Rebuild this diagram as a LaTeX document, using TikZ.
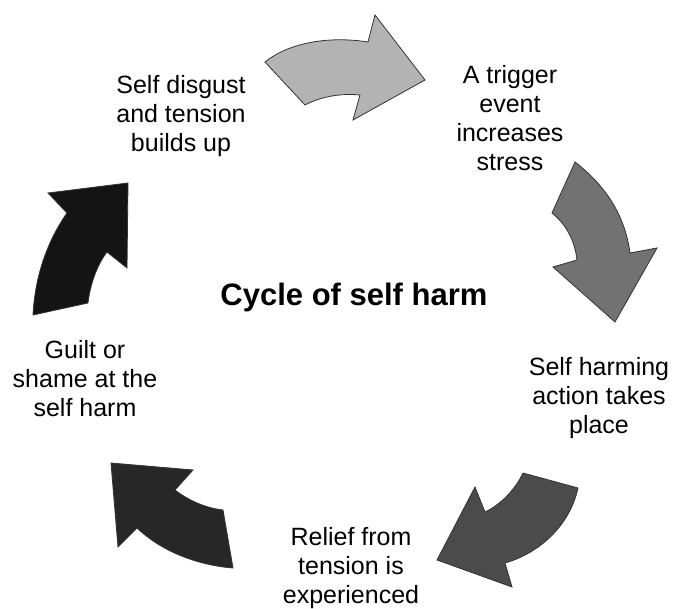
\documentclass[tikz,border=0pt]{standalone}
\usepackage{fontspec}
\setmainfont{Liberation Sans}
\definecolor{arrowA}{HTML}{B3B3B3}
\definecolor{arrowB}{HTML}{727272}
\definecolor{arrowC}{HTML}{4B4B4B}
\definecolor{arrowD}{HTML}{272727}
\definecolor{arrowE}{HTML}{141414}
\definecolor{edgegray}{HTML}{333333}
\tikzset{
  cyclearrow/.style={draw=edgegray, line width=0.8pt, line join=miter},
  stagetext/.style={align=center, inner sep=0pt, anchor=north, font=\fontsize{25}{29}\selectfont},
  titletext/.style={inner sep=0pt, anchor=base, font=\fontsize{31}{36}\selectfont\bfseries}
}
\begin{document}
\begin{tikzpicture}[x=1pt,y=-1pt]
\useasboundingbox (0,0) rectangle (673,609);
% arrows
\fill[cyclearrow, fill=arrowA] (265,62) -- (305,105) .. controls (320,97) and (340,93) .. (360,95) -- (353,120) -- (425,80) -- (375,15) -- (368,42) .. controls (330,36) and (290,42) .. cycle;
\fill[cyclearrow, fill=arrowB] (575,162) -- (552,213) .. controls (567,225) and (575,242) .. (577,260) -- (553,267) -- (615,322) -- (657,248) -- (630,253) .. controls (625,215) and (605,185) .. cycle;
\fill[cyclearrow, fill=arrowC] (523,473) -- (578,488) .. controls (570,525) and (540,553) .. (505,563) -- (512,587) -- (437,560) -- (475,487) -- (485,512) .. controls (500,505) and (515,490) .. cycle;
\fill[cyclearrow, fill=arrowD] (223,510) -- (233,568) .. controls (195,565) and (160,550) .. (137,528) -- (118,547) -- (111,463) -- (193,470) -- (175,490) .. controls (188,500) and (205,508) .. cycle;
\fill[cyclearrow, fill=arrowE] (33,315) -- (88,303) .. controls (90,285) and (97,265) .. (107,252) -- (127,268) -- (128,183) -- (48,193) -- (67,213) .. controls (48,240) and (35,275) .. cycle;
% texts
\node[stagetext] (disgust) at (181,75) {Self disgust\\and tension\\builds up};
\node[stagetext] (trigger) at (510,65) {A trigger\\event\\increases\\stress};
\node[stagetext] (action) at (599,357) {Self harming\\action takes\\place};
\node[stagetext] (relief) at (351,527) {Relief from\\tension is\\experienced};
\node[stagetext] (guilt) at (85,340) {Guilt or\\shame at the\\self harm};
\node[titletext] (title) at (354,306) {Cycle of self harm};
\end{tikzpicture}
\end{document}
